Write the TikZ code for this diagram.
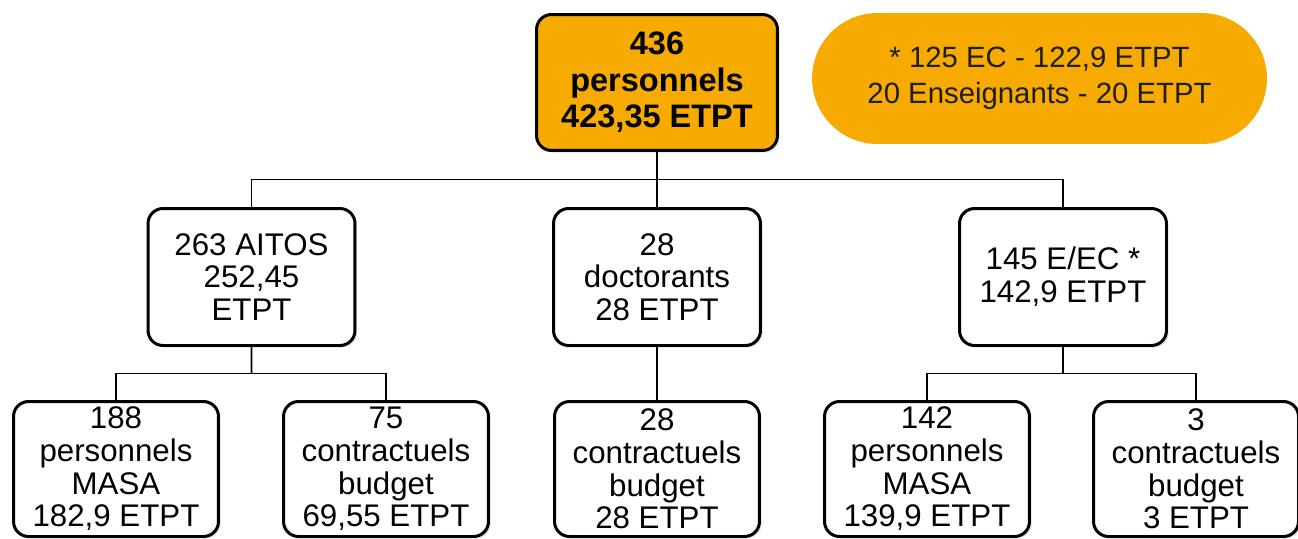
\documentclass[tikz,border=0pt]{standalone}
\usepackage{fontspec}
\setmainfont{Liberation Sans}
\usetikzlibrary{calc, shadows, shapes.misc}
\definecolor{etptorange}{HTML}{F7AB00}
\definecolor{notetext}{HTML}{1E1E1E}

\begin{document}
\begin{tikzpicture}[x=0.02cm, y=-0.02cm,
  unit/.style={draw, line width=1.7pt, rounded corners=0.3cm, fill=white,
    align=center, inner sep=0pt, font=\fontsize{17.8}{18.6}\selectfont,
    drop shadow={opacity=0.25, shadow xshift=1.2pt, shadow yshift=-1.2pt}},
  topbox/.style={unit, fill=etptorange, minimum width=4.82cm, minimum height=2.72cm,
    font=\fontsize{18.5}{20.8}\selectfont\bfseries},
  midbox/.style={unit, minimum width=4.14cm, minimum height=2.74cm},
  lowbox/.style={unit, minimum width=4.1cm, minimum height=2.7cm},
  note/.style={rounded rectangle, fill=etptorange, text=notetext, align=center,
    inner sep=0pt, minimum width=9.1cm, minimum height=2.62cm,
    font=\fontsize{16.7}{20.5}\selectfont},
  link/.style={line width=1.1pt}]

\useasboundingbox (0,0) rectangle (1298,538);

% top level
\node[topbox] (total) at (657,82.5) {436\\personnels\\423,35 ETPT};
\node[note] (note) at (1039.5,78.5) {* 125 EC - 122,9 ETPT\\20 Enseignants - 20 ETPT};

% categories
\node[midbox] (aitos) at (251.5,277) {263 AITOS\\252,45\\ETPT};
\node[midbox] (doct) at (657,277) {28\\doctorants\\28 ETPT};
\node[midbox] (eec) at (1063,277) {145 E/EC *\\142,9 ETPT};

% details
\node[lowbox] (aitosmasa) at (116,469) {188\\personnels\\MASA\\182,9 ETPT};
\node[lowbox] (aitosbudget) at (386,469) {75\\contractuels\\budget\\69,55 ETPT};
\node[lowbox] (doctbudget) at (657,469) {28\\contractuels\\budget\\28 ETPT};
\node[lowbox] (eecmasa) at (927,469) {142\\personnels\\MASA\\139,9 ETPT};
\node[lowbox] (eecbudget) at (1196,469) {3\\contractuels\\budget\\3 ETPT};

% connectors
\coordinate (forktop) at ($(total.south)!0.5!(doct.north)$);
\coordinate (forkaitos) at ($(aitos.south)!0.5!(aitos.south |- aitosmasa.north)$);
\coordinate (forkeec) at ($(eec.south)!0.5!(eec.south |- eecmasa.north)$);

\draw[link] (total.south) -- (doct.north);
\draw[link] (aitos.north) |- (forktop) -| (eec.north);
\draw[link] (doct.south) -- (doctbudget.north);
\draw[link] (aitos.south) -- (forkaitos);
\draw[link] (aitosmasa.north) |- (forkaitos) -| (aitosbudget.north);
\draw[link] (eec.south) -- (forkeec);
\draw[link] (eecmasa.north) |- (forkeec) -| (eecbudget.north);

\end{tikzpicture}
\end{document}
